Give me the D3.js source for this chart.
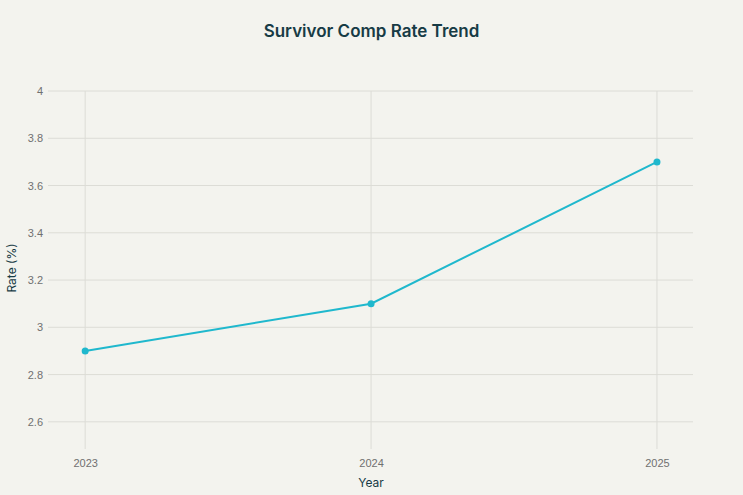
<!DOCTYPE html>
<html>
<head>
<meta charset="utf-8">
<script src="https://cdn.jsdelivr.net/npm/d3@7"></script>
<style>
  body { margin: 0; background: #f3f3ee; }
  svg { display: block; font-family: Inter, "Open Sans", sans-serif; }
</style>
</head>
<body>
<div id="chart"></div>
<script>
const years = [2023, 2024, 2025];
const rates = [2.9, 3.1, 3.7];
const yTicks = [2.6, 2.8, 3, 3.2, 3.4, 3.6, 3.8, 4];

const width = 743, height = 495;
const margin = {top: 91, right: 50, bottom: 46, left: 48};

const svg = d3.select("#chart").append("svg")
    .attr("width", width)
    .attr("height", height);

svg.append("rect")
    .attr("width", width).attr("height", height)
    .attr("fill", "#f3f3ee");

const x = d3.scaleLinear()
    .domain([2022.87, 2025.126])
    .range([margin.left, width - margin.right]);
const y = d3.scaleLinear()
    .domain([2.485, 4])
    .range([height - margin.bottom, margin.top]);

// grid
svg.append("g")
    .selectAll("line")
    .data(yTicks)
    .join("line")
    .attr("x1", margin.left).attr("x2", width - margin.right)
    .attr("y1", d => y(d)).attr("y2", d => y(d))
    .attr("stroke", "#dcdcd6").attr("stroke-width", 1);
svg.append("g")
    .selectAll("line")
    .data(years)
    .join("line")
    .attr("x1", d => x(d)).attr("x2", d => x(d))
    .attr("y1", margin.top).attr("y2", height - margin.bottom)
    .attr("stroke", "#dcdcd6").attr("stroke-width", 1);

// axes
const axisY = d3.axisLeft(y).tickValues(yTicks).tickSize(0).tickPadding(5)
    .tickFormat(d3.format("~g"));
const gy = svg.append("g")
    .attr("transform", `translate(${margin.left},0)`)
    .call(axisY);
gy.select(".domain").remove();
gy.selectAll("text").attr("fill", "#707070").style("font-size", "11px");

const axisX = d3.axisBottom(x).tickValues(years).tickSize(0).tickPadding(10)
    .tickFormat(d3.format("d"));
const gx = svg.append("g")
    .attr("transform", `translate(0,${height - margin.bottom})`)
    .call(axisX);
gx.select(".domain").remove();
gx.selectAll("text").attr("fill", "#707070").style("font-size", "11px");

// line
const line = d3.line()
    .x((d, i) => x(years[i]))
    .y(d => y(d));
svg.append("path")
    .datum(rates)
    .attr("d", line)
    .attr("fill", "none")
    .attr("stroke", "#1fb8cd")
    .attr("stroke-width", 2);
svg.append("g")
    .selectAll("circle")
    .data(rates)
    .join("circle")
    .attr("cx", (d, i) => x(years[i]))
    .attr("cy", d => y(d))
    .attr("r", 3.5)
    .attr("fill", "#1fb8cd");

// titles
svg.append("text")
    .attr("x", width / 2)
    .attr("y", 37)
    .attr("text-anchor", "middle")
    .attr("fill", "#173b45")
    .style("font-size", "17px")
    .style("font-weight", "600")
    .text("Survivor Comp Rate Trend");

svg.append("text")
    .attr("x", x(2024))
    .attr("y", 487)
    .attr("text-anchor", "middle")
    .attr("fill", "#173b45")
    .style("font-size", "12px")
    .text("Year");

svg.append("text")
    .attr("transform", `translate(16,${(margin.top + height - margin.bottom) / 2 - 2}) rotate(-90)`)
    .attr("text-anchor", "middle")
    .attr("fill", "#173b45")
    .style("font-size", "12px")
    .text("Rate (%)");
</script>
</body>
</html>
